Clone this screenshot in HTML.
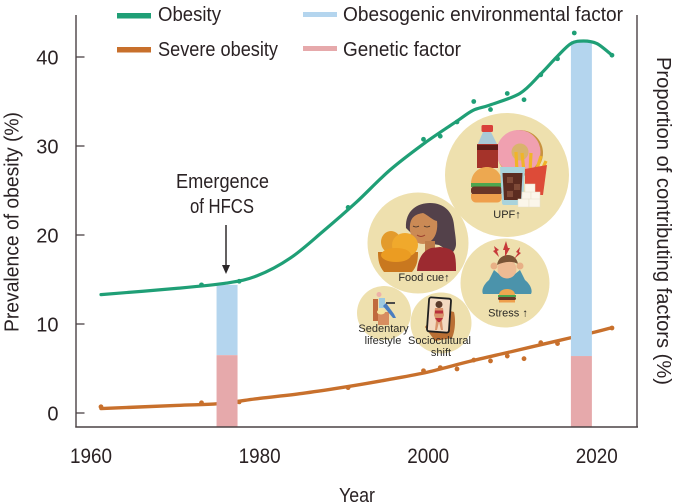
<!DOCTYPE html>
<html lang="en">
<head>
<meta charset="utf-8">
<title>Prevalence of obesity</title>
<style>
html,body{margin:0;padding:0;background:#fff;width:675px;height:503px;overflow:hidden}
svg{display:block}
text{font-family:"Liberation Sans",sans-serif;fill:#2a2224}
.lbl{font-size:20px}
.mini{font-size:11px;fill:#2b2a26}
</style>
</head>
<body>
<svg id="chart" width="675" height="503" viewBox="0 0 675 503" xmlns="http://www.w3.org/2000/svg">
  <g id="under"></g>
  <g id="bars"></g>
  <g id="over"></g>

  <g id="axes">
    <line x1="76" y1="15" x2="76" y2="427.5" stroke="#4a4245" stroke-width="1.4"/>
    <line x1="75.3" y1="427" x2="638" y2="427" stroke="#4a4245" stroke-width="1.4"/>
    <line x1="637" y1="15" x2="637" y2="427.5" stroke="#4a4245" stroke-width="1.4"/>
  </g>

  <g>
    <rect x="117" y="13" width="34" height="5.5" fill="#1f9f76"/>
    <text class="lbl" x="158" y="21" textLength="63" lengthAdjust="spacingAndGlyphs">Obesity</text>
    <rect x="117" y="47" width="34" height="5.5" fill="#c8702c"/>
    <text class="lbl" x="158" y="56" textLength="120" lengthAdjust="spacingAndGlyphs">Severe obesity</text>
    <rect x="303" y="12" width="34" height="5" fill="#b4d5ee"/>
    <text class="lbl" x="343" y="21" textLength="280" lengthAdjust="spacingAndGlyphs">Obesogenic environmental factor</text>
    <rect x="303" y="46" width="34" height="5" fill="#e6a9ab"/>
    <text class="lbl" x="343" y="56" textLength="118" lengthAdjust="spacingAndGlyphs">Genetic factor</text>
  </g>

  <text class="lbl" x="339" y="502" textLength="36" lengthAdjust="spacingAndGlyphs">Year</text>
  <text class="lbl" transform="translate(18.5,332) rotate(-90)" x="0" y="0" textLength="220" lengthAdjust="spacingAndGlyphs">Prevalence of obesity (%)</text>
  <text class="lbl" transform="translate(657,57) rotate(90)" x="0" y="0" textLength="328" lengthAdjust="spacingAndGlyphs">Proportion of contributing factors (%)</text>

  <g>
    <text class="lbl" x="176" y="188" textLength="93" lengthAdjust="spacingAndGlyphs">Emergence</text>
    <text class="lbl" x="190" y="213" textLength="64" lengthAdjust="spacingAndGlyphs">of HFCS</text>
    <line x1="226" y1="225" x2="226" y2="267" stroke="#3e3a3b" stroke-width="1.6"/>
    <polygon points="222,265 230,265 226,274" fill="#2b2728"/>
  </g>

  <g>
    <g>
      <circle cx="507" cy="175" r="62" fill="#eee0ae"/>
      <circle cx="520" cy="153" r="23" fill="#c8923f"/>
      <circle cx="518.500" cy="152" r="22" fill="#f0a0b0"/>
      <circle cx="520" cy="152" r="8.500" fill="#d9b36c"/>
      <rect x="481.500" y="125" width="11.500" height="7" rx="1.500" fill="#d9403a"/>
      <path d="M483 132h8l7 14v22h-21v-22z" fill="#a9c9d6"/>
      <rect x="477" y="144" width="21" height="24" fill="#a5332a"/>
      <rect x="477" y="145" width="21" height="5" fill="#5e1d18"/>
      <g stroke="#f0b429" stroke-width="3.200">
        <line x1="517" y1="172" x2="516" y2="152"/>
        <line x1="524" y1="172" x2="522" y2="153"/>
        <line x1="530" y1="172" x2="531" y2="153"/>
        <line x1="536" y1="172" x2="541" y2="156"/>
        <line x1="541" y1="172" x2="546" y2="161"/>
      </g>
      <path d="M525 169l22-4-4 30h-18z" fill="#dd4b38"/>
      <path d="M471 184c0-12 9-17 16-17s15 5 15 17z" fill="#eda850"/>
      <rect x="471" y="183" width="31" height="4" fill="#4da64f"/>
      <rect x="471" y="186.500" width="31" height="8" rx="3" fill="#6a3527"/>
      <path d="M471 194h31v3c0 3-2 5.500-5 5.500h-21c-3 0-5-2.500-5-5.500z" fill="#ef9f4c"/>
      <path d="M500 167h25l-2 36c-.2 1.500-1 2-2 2h-17c-1 0-1.800-.5-2-2z" fill="#a9d3dc"/>
      <path d="M502.500 173h20l-1.500 27h-17z" fill="#5c2c20"/>
      <rect x="507" y="177" width="6" height="6" fill="#7f4a37"/>
      <rect x="514" y="184" width="6" height="6" fill="#7f4a37"/>
      <rect x="507" y="191" width="6" height="6" fill="#7f4a37"/>
      <g fill="#fbf6ea" stroke="#e8dfc8" stroke-width=".5">
        <rect x="525" y="184" width="10" height="9"/>
        <rect x="522" y="192" width="9" height="8"/>
        <rect x="531" y="192" width="9" height="8"/>
        <rect x="518" y="199" width="11" height="8"/>
        <rect x="529" y="199" width="11" height="8"/>
      </g>
      <text class="mini" x="507" y="218" text-anchor="middle">UPF↑</text>
    </g>

    <g>
      <circle cx="418" cy="243" r="50.500" fill="#eee0ae"/>
      <path d="M406 228c-1-18 12-25 24-25 14 0 23 9 24 22 1 9 2 13 2 19 0 4-2 7-4 9l-13-8-19-3z" fill="#53414a"/>
      <path d="M410 225c1-9 7-11 13-12 5 2 9 7 14 8 1 8-1 15-5 19-4 4-9 5-14 3-6-3-9-11-8-18z" fill="#cb8a55"/>
      <path d="M413 226q3 2 6 0M424 226q3 2 6 0" stroke="#3b2a25" stroke-width=".8" fill="none"/>
      <path d="M417 235q4 3 8 0" stroke="#9a3d2c" stroke-width="1" fill="none"/>
      <rect x="425" y="241" width="10" height="11" fill="#bd7c49"/>
      <path d="M417 271c1-13 6-20 14-23l9-1c9 1 14 3 15 9 1 5 1 10 1 15z" fill="#9c2a30"/>
      <path d="M378 252h40c0 9-1 14-6 20h-28c-5-6-6-12-6-20z" fill="#c9781f"/>
      <ellipse cx="391" cy="242" rx="10" ry="11" fill="#e39b2c"/>
      <ellipse cx="405" cy="245" rx="13" ry="12" fill="#f0a92c"/>
      <ellipse cx="396" cy="255" rx="15" ry="7" fill="#eb9c22"/>
      <text class="mini" x="424" y="281" text-anchor="middle">Food cue↑</text>
    </g>

    <g>
      <circle cx="505" cy="283" r="44.500" fill="#eee0ae"/>
      <path d="M483 294c-2-4 1-10 6-14l5-10 5 4 4 2h8l4-2 5-4 5 10c5 4 8 10 6 14z" fill="#4b93ab"/>
      <circle cx="507" cy="269" r="9.500" fill="#eebb94"/>
      <path d="M497 265c1-7 6-10 11-10s9 3 10 9c-5-3-13-3-21 1z" fill="#7a5436"/>
      <circle cx="494" cy="266" r="3.500" fill="#e8b086"/>
      <circle cx="520" cy="266" r="3.500" fill="#e8b086"/>
      <g fill="#c73a3a">
        <polygon points="494,246 499,250 497,251 499,257 493,251 495,250"/>
        <polygon points="506,241 508,248 510,248 505,257 505,250 503,250"/>
        <polygon points="520,247 516,252 518,253 514,259 521,253 519,252"/>
      </g>
      <path d="M499 295c0-4 4-6 8-6s8 2 8 6z" fill="#eda850"/>
      <rect x="498" y="295" width="18" height="2" fill="#4da64f"/>
      <rect x="498" y="297" width="18" height="3" rx="1.500" fill="#6a3527"/>
      <rect x="499" y="300" width="16" height="2.500" fill="#ef9f4c"/>
      <text class="mini" x="508" y="316.500" text-anchor="middle">Stress ↑</text>
    </g>

    <g>
      <circle cx="384" cy="313" r="27" fill="#eee0ae"/>
      <circle cx="379" cy="294.500" r="2.500" fill="#eeb1a8"/>
      <rect x="373" y="299" width="5" height="22" fill="#c06a3d"/>
      <rect x="378" y="312" width="11" height="13" fill="#d78d60"/>
      <rect x="379" y="298" width="6" height="10" fill="#9dc9e0"/>
      <path d="M383 306l10 12 3 0-2-4-8-11z" fill="#4a7dc0"/>
      <rect x="386" y="302" width="9" height="2" fill="#4a4a4a"/>
      <ellipse cx="381" cy="312" rx="4" ry="2.500" fill="#f5e59e"/>
      <text class="mini" x="383.500" y="332" text-anchor="middle">Sedentary</text>
      <text class="mini" x="383" y="344" text-anchor="middle">lifestyle</text>
    </g>

    <g>
      <circle cx="441" cy="323" r="30.500" fill="#eee0ae"/>
      <path d="M446 310l8 2c2 8 1 20-2 26l-17 3-10-14 3-4 18 2z" fill="#b96f34"/>
      <rect x="428" y="298" width="22" height="34" rx="2" fill="#f3d9c0" stroke="#1f1f1f" stroke-width="1.800" transform="rotate(4 439 315)"/>
      <circle cx="439" cy="304.500" r="3.500" fill="#5b3b2b"/>
      <path d="M435 308h8l1 7-2 6 1 9h-2l-2-8-2 8h-2l1-9-2-6z" fill="#d9936b"/>
      <rect x="435" y="310.500" width="8" height="3" fill="#b92f3b"/>
      <path d="M435 318h8l-3 4h-2z" fill="#b92f3b"/>
      <text class="mini" x="439.500" y="344" text-anchor="middle">Sociocultural</text>
      <text class="mini" x="441" y="356" text-anchor="middle">shift</text>
    </g>
  </g>
</svg>

<script>
// ---- chart data ----
const yTickValues = [0, 10, 20, 30, 40];
const xTickValues = [1960, 1980, 2000, 2020];

const obesityPointYears = [1973, 1977.5, 1990.5, 1999.5, 2001.5, 2003.5, 2005.5, 2007.5, 2009.5, 2011.5, 2013.5, 2015.5, 2017.5, 2022];
const obesityPointValues = [14.4, 14.8, 23.1, 30.75, 31.1, 32.7, 35.0, 34.1, 35.9, 35.2, 38.0, 39.8, 42.7, 40.2];

const severePointYears = [1961, 1973, 1977.5, 1990.5, 1999.5, 2001.5, 2003.5, 2005.5, 2007.5, 2009.5, 2011.5, 2013.5, 2015.5, 2022];
const severePointValues = [0.7, 1.15, 1.25, 2.85, 4.75, 5.1, 4.95, 5.95, 5.85, 6.4, 6.1, 7.9, 7.8, 9.55];

const obesityCurveYears = [1961, 1970, 1976, 1979.6, 1983.6, 1987.5, 1991.5, 1995.5, 1999.6, 2003.5, 2005.4, 2007.4, 2011, 2013.4, 2015.4, 2017.1, 2018.6, 2020.2, 2022];
const obesityCurveValues = [13.3, 14.0, 14.6, 15.4, 17.4, 20.4, 23.7, 27.3, 30.3, 32.8, 34.0, 34.6, 35.9, 38.0, 40.0, 41.5, 41.8, 41.5, 40.2];

const severeCurveYears = [1961, 1970, 1975, 1980, 1985, 1990, 1995, 2000, 2005, 2010, 2015, 2020, 2022];
const severeCurveValues = [0.5, 0.85, 1.05, 1.65, 2.2, 2.9, 3.7, 4.6, 5.8, 6.9, 8.0, 9.1, 9.6];

const factorBarYears = [1976.05, 2018.35];
const factorBarTotals = [14.4, 41.8];
const geneticShares = [6.5, 6.4];

// ---- axis functions ----
const SVGNS = 'http://www.w3.org/2000/svg';
const xScale = year => 92.6 + (year - 1960) * 8.377;
const xLabelScale = year => 91 + (year - 1960) * 8.43;
const yScale = value => 413 - value * 8.9;
const BAR_WIDTH = 21;
const AXIS_BOTTOM = 427;

function make(tag, attrs, parent) {
  const el = document.createElementNS(SVGNS, tag);
  Object.keys(attrs).forEach(k => el.setAttribute(k, attrs[k]));
  parent.appendChild(el);
  return el;
}

function smoothPath(years, values) {
  const p = years.map((y, i) => [xScale(y), yScale(values[i])]);
  let d = 'M' + p[0][0].toFixed(1) + ' ' + p[0][1].toFixed(1);
  for (let i = 0; i < p.length - 1; i++) {
    const a = p[Math.max(i - 1, 0)], b = p[i], c = p[i + 1], e = p[Math.min(i + 2, p.length - 1)];
    const c1x = b[0] + (c[0] - a[0]) / 6, c1y = b[1] + (c[1] - a[1]) / 6;
    const c2x = c[0] - (e[0] - b[0]) / 6, c2y = c[1] - (e[1] - b[1]) / 6;
    d += 'C' + c1x.toFixed(1) + ' ' + c1y.toFixed(1) + ' ' + c2x.toFixed(1) + ' ' + c2y.toFixed(1) + ' ' + c[0].toFixed(1) + ' ' + c[1].toFixed(1);
  }
  return d;
}

const under = document.getElementById('under');
const over = document.getElementById('over');
const barsLayer = document.getElementById('bars');
const axes = document.getElementById('axes');

// severe obesity
const severeLine = make('path', {d: smoothPath(severeCurveYears, severeCurveValues), fill: 'none', stroke: '#c8702c', 'stroke-width': 3.4, 'stroke-linecap': 'round'}, under);


severePointYears.forEach((yr, i) => {
  const pt = make('circle', {cx: xScale(yr), cy: yScale(severePointValues[i]), r: 2.4, fill: '#c8702c'}, under);
  
  
});

// stacked factor bars
factorBarYears.forEach((yr, i) => {
  const left = xScale(yr) - BAR_WIDTH / 2;
  const topY = yScale(factorBarTotals[i]);
  const midY = yScale(geneticShares[i]);
  const env = make('rect', {x: left, y: topY, width: BAR_WIDTH, height: midY - topY, fill: '#b4d5ee'}, barsLayer);
  
  
  const gen = make('rect', {x: left, y: midY, width: BAR_WIDTH, height: AXIS_BOTTOM - midY, fill: '#e6a9ab'}, barsLayer);
  
  
});

// obesity
const obesityLine = make('path', {d: smoothPath(obesityCurveYears, obesityCurveValues), fill: 'none', stroke: '#1f9f76', 'stroke-width': 3.2, 'stroke-linecap': 'round'}, over);


obesityPointYears.forEach((yr, i) => {
  const pt = make('circle', {cx: xScale(yr), cy: yScale(obesityPointValues[i]), r: 2.4, fill: '#1f9f76'}, over);
  
  
});

// ticks
yTickValues.forEach(v => {
  const tick = make('line', {x1: 76, x2: 84.5, y1: yScale(v), y2: yScale(v), stroke: '#4a4245', 'stroke-width': 1.3}, axes);
  
  
  const label = make('text', {x: 58.5, y: yScale(v) + 7.5, 'text-anchor': 'end', class: 'lbl'}, axes);
  
  
  label.textContent = String(v);
});
xTickValues.forEach(v => {
  const label = make('text', {x: xLabelScale(v), y: 463, 'text-anchor': 'middle', class: 'lbl', style: 'font-size:21px', textLength: 42, lengthAdjust: 'spacingAndGlyphs'}, axes);
  
  
  label.textContent = String(v);
});
</script>
</body>
</html>
